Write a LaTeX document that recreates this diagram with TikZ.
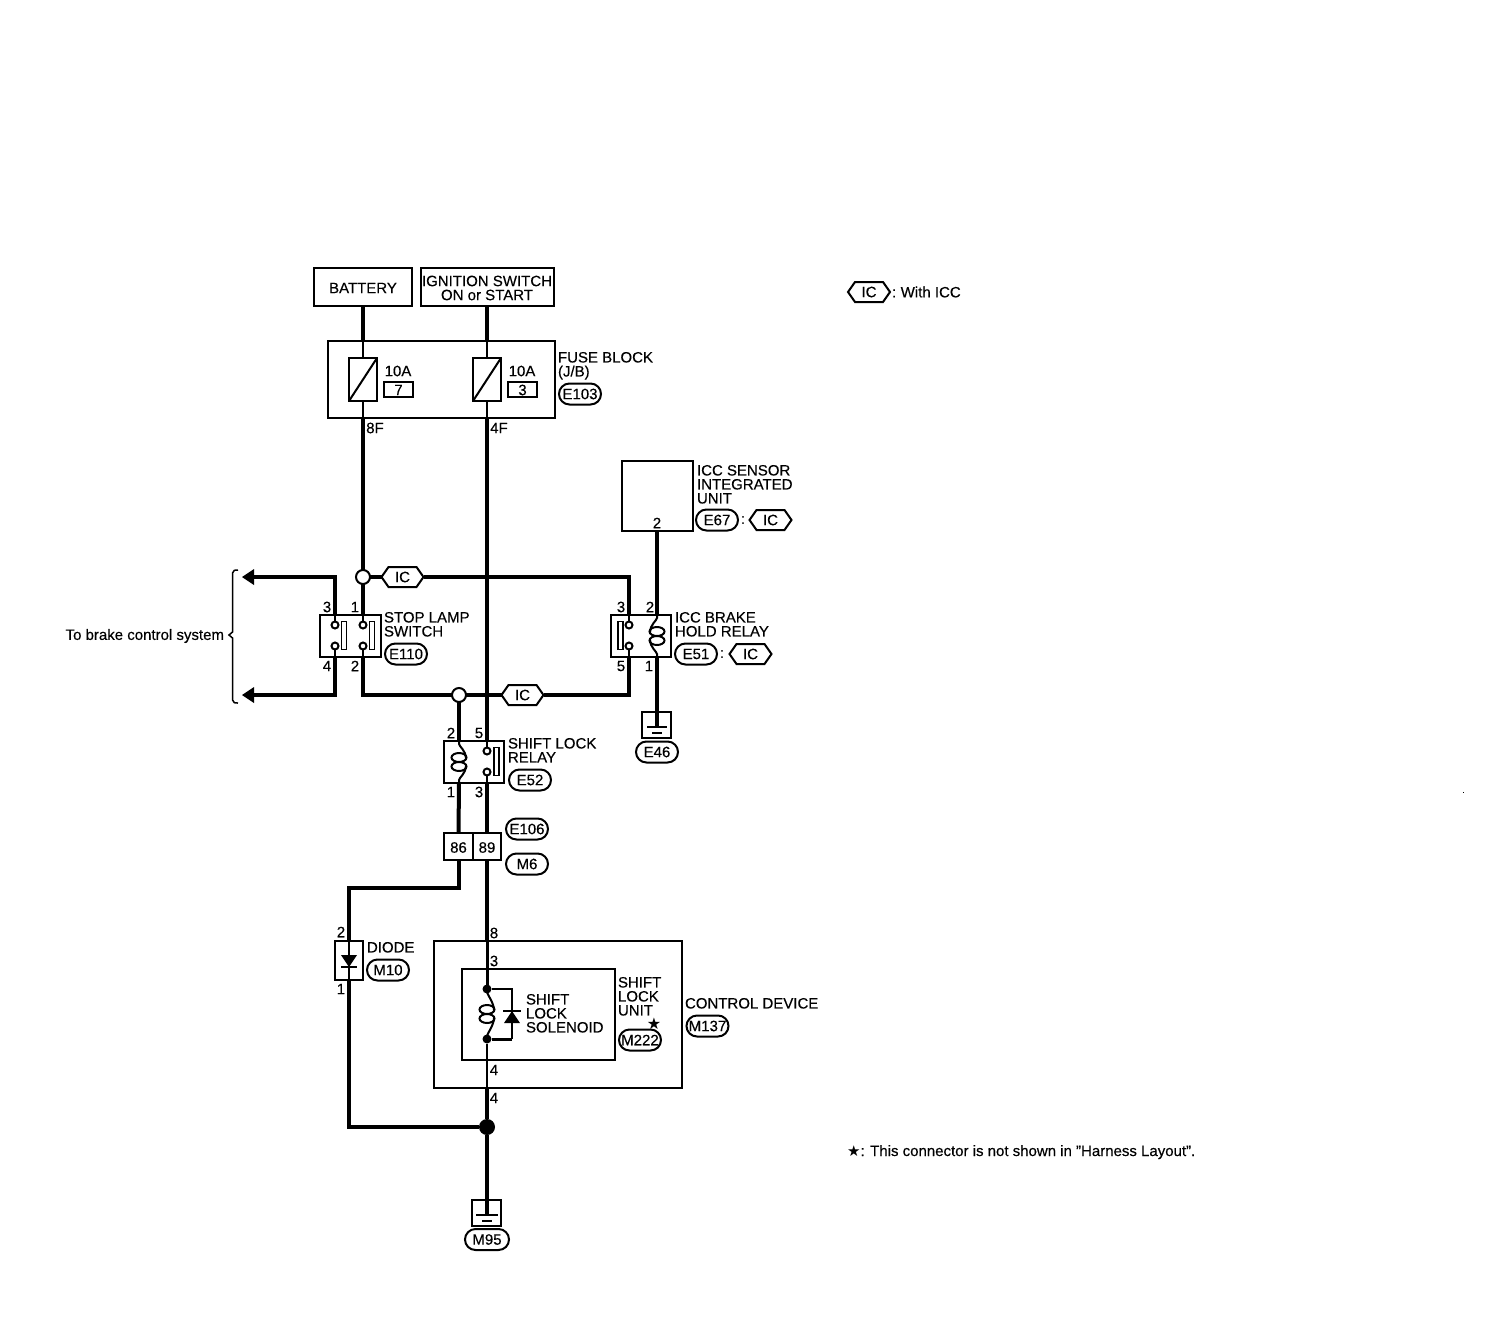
\documentclass[tikz,border=0pt]{standalone}
\usepackage{fontspec}
\setmainfont{Liberation Sans}[RawFeature={embolden=0.3}]
\newfontfamily\symfont{DejaVu Sans}
\usetikzlibrary{shapes.misc,shapes.symbols}
\tikzset{
  x=1pt,y=-1pt,
  every node/.style={inner sep=0pt,outer sep=0pt},
  txt/.style={font=\fontsize{15}{14}\selectfont,align=left,anchor=north west},
  num/.style={font=\fontsize{15}{15}\selectfont},
  boxed/.style={draw,line width=2pt,rectangle,fill=none},
  thickwire/.style={line width=4pt,line join=miter},
  thinwire/.style={line width=2pt},
  pill/.style={draw,line width=2pt,rounded rectangle,minimum width=42pt,minimum height=21pt,font=\fontsize{15}{15}\selectfont},
  hex/.style={draw,line width=2pt,signal,signal to=west and east,signal pointer angle=110,minimum width=42pt,minimum height=20pt,font=\fontsize{15}{15}\selectfont},
  joint/.style={draw,line width=2pt,circle,fill=white,minimum size=14pt},
  contact/.style={draw,line width=2pt,circle,fill=white,minimum size=7pt},
  dotj/.style={circle,fill=black,minimum size=9pt},
  bigdot/.style={circle,fill=black,minimum size=16pt},
  contactbar/.style={draw,line width=1.5pt,rectangle,minimum width=5pt,minimum height=28pt},
}
\newcommand{\coilshape}[4]{% x, y centre, side (+1 right hook, -1 left), half length
  \draw[thinwire] (#1,#2-#4) -- (#1,#2-#4+3) .. controls (#1,#2-#4+5) and (#1+#3*7,#2-11) .. (#1+#3*7,#2-4);
  \draw[thinwire] (#1,#2+#4) -- (#1,#2+#4-3) .. controls (#1,#2+#4-5) and (#1+#3*7,#2+11) .. (#1+#3*7,#2+4);
  \draw[thinwire] (#1,#2-4.5) ellipse [x radius=7.5,y radius=4.5];
  \draw[thinwire] (#1,#2+4.5) ellipse [x radius=7.5,y radius=4.5];
}
\begin{document}
\begin{tikzpicture}
\useasboundingbox (0,0) rectangle (1488,1328);
\fill[white] (0,0) rectangle (1488,1328);

% --- boxes
\node[boxed,minimum width=98pt,minimum height=38pt] (battery) at (363,287) {};
\node[num] (batterylbl) at (363,288) {BATTERY};
\node[boxed,minimum width=133pt,minimum height=38pt] (ign) at (487,287) {};
\node[font=\fontsize{15}{14}\selectfont,align=center] (ignlbl) at (487,288) {IGNITION SWITCH\\ON or START};
\node[boxed,minimum width=227pt,minimum height=77pt] (fuseblock) at (441,379.5) {};
\node[boxed,minimum width=28pt,minimum height=43pt] (fuseA) at (363,379.5) {};
\node[boxed,minimum width=28pt,minimum height=43pt] (fuseB) at (487,379.5) {};
\draw[thinwire] (fuseA.south west) -- (fuseA.north east);
\draw[thinwire] (fuseB.south west) -- (fuseB.north east);
\node[boxed,minimum width=29pt,minimum height=15pt] (fuseA7) at (398.5,389) {};
\node[num] (lbl7) at (398.5,390) {7};
\node[boxed,minimum width=29pt,minimum height=15pt] (fuseB3) at (522.5,389) {};
\node[num] (lbl3) at (522.5,390) {3};
\node[num] (ampA) at (398,371) {10A};
\node[num] (ampB) at (522,371) {10A};
\node[txt] (fuselbl) at (558,352) {FUSE BLOCK\\(J/B)};
\node[pill] (e103) at (580,394) {E103};
\node[num] (n8f) at (375,428) {8F};
\node[num] (n4f) at (499,428) {4F};

\node[boxed,minimum width=71pt,minimum height=70pt] (icc) at (657.5,496) {};
\node[num] (icc2) at (657,523) {2};
\node[txt] (icclbl) at (697,465) {ICC SENSOR\\INTEGRATED\\UNIT};
\node[pill] (e67) at (717,520) {E67};
\node[num] (c67) at (743,520) {:};
\node[hex] (hexE67) at (770.5,520) {IC};

\node[boxed,minimum width=61pt,minimum height=42pt] (stop) at (350.5,636) {};
\node[txt] (stoplbl) at (384,612) {STOP LAMP\\SWITCH};
\node[pill] (e110) at (406,654) {E110};
\node[num] (s3) at (327,607) {3};
\node[num] (s1) at (355,607) {1};
\node[num] (s4) at (327,666) {4};
\node[num] (s2) at (355,666) {2};
\node[contact] (c3) at (335,625) {};
\node[contact] (c4) at (335,646) {};
\node[contact] (c1) at (363,625) {};
\node[contact] (c2) at (363,646) {};
\node[contactbar] (barL) at (344,635.5) {};
\node[contactbar] (barR) at (372,635.5) {};
\draw[thinwire] (c3 |- stop.north) -- (c3.north);
\draw[thinwire] (c4 |- stop.south) -- (c4.south);
\draw[thinwire] (c1 |- stop.north) -- (c1.north);
\draw[thinwire] (c2 |- stop.south) -- (c2.south);

\node[boxed,minimum width=60pt,minimum height=42pt] (hold) at (641,636) {};
\node[txt] (holdlbl) at (675,612) {ICC BRAKE\\HOLD RELAY};
\node[pill] (e51) at (696,654) {E51};
\node[num] (c51) at (722,654) {:};
\node[hex] (hexE51) at (750.5,654) {IC};
\node[num] (h3) at (621,607) {3};
\node[num] (h2) at (650,607) {2};
\node[num] (h5) at (621,666) {5};
\node[num] (h1) at (649,666) {1};
\node[contact] (hc3) at (629,625) {};
\node[contact] (hc5) at (629,646) {};
\node[contactbar] (hbar) at (620.5,635.5) {};
\draw[thinwire] (hc3 |- hold.north) -- (hc3.north);
\draw[thinwire] (hc5 |- hold.south) -- (hc5.south);
\coilshape{657}{636}{-1}{21}

\node[boxed,minimum width=29pt,minimum height=26pt] (gndE46) at (656.5,725) {};
\node[pill] (e46) at (657,752) {E46};

\node[boxed,minimum width=60pt,minimum height=42pt] (relay) at (474,762) {};
\node[txt] (relaylbl) at (508,738) {SHIFT LOCK\\RELAY};
\node[pill] (e52) at (530,780) {E52};
\node[num] (r2) at (451,733) {2};
\node[num] (r5) at (479,733) {5};
\node[num] (r1) at (451,792) {1};
\node[num] (r3) at (479,792) {3};
\node[contact] (rc5) at (487,751) {};
\node[contact] (rc3) at (487,772) {};
\node[contactbar] (rbar) at (496.5,761.5) {};
\draw[thinwire] (rc5 |- relay.north) -- (rc5.north);
\draw[thinwire] (rc3 |- relay.south) -- (rc3.south);
\coilshape{459}{762}{1}{21}

\node[boxed,minimum width=29pt,minimum height=27pt] (conn86) at (458.5,846.5) {};
\node[num] (lbl86) at (458.5,847.5) {86};
\node[boxed,minimum width=28pt,minimum height=27pt] (conn89) at (487,846.5) {};
\node[num] (lbl89) at (487,847.5) {89};
\node[pill] (e106) at (527,829) {E106};
\node[pill] (m6) at (527,864) {M6};

\node[boxed,minimum width=28pt,minimum height=39pt] (diode) at (349,960.5) {};
\node[num] (d2) at (341,932) {2};
\node[num] (d1) at (341,989) {1};
\node[txt] (diodelbl) at (367,942) {DIODE};
\node[pill] (m10) at (388,970) {M10};
\fill (341,955) -- (357,955) -- (349,967) -- cycle;
\draw[thinwire] (341,967) -- (357,967);
\draw[thinwire] (diode.north) -- (diode.south);

\node[boxed,minimum width=248pt,minimum height=147pt] (ctrl) at (558,1014.5) {};
\node[boxed,minimum width=153pt,minimum height=91pt] (unit) at (538.5,1014.5) {};
\node[num] (n8) at (494,933) {8};
\node[num] (n3) at (494,961) {3};
\node[num] (n4a) at (494,1070) {4};
\node[num] (n4b) at (494,1098) {4};
\node[txt] (sollbl) at (526,994) {SHIFT\\LOCK\\SOLENOID};
\node[txt] (unitlbl) at (618,977) {SHIFT\\LOCK\\UNIT};
\node[font=\symfont\fontsize{16}{16}\selectfont] (star) at (654,1024) {★};
\node[pill] (m222) at (640,1040) {M222};
\node[txt] (ctrllbl) at (685,998) {CONTROL DEVICE};
\node[pill] (m137) at (707.5,1026) {M137};
\node[dotj] (dotA) at (487,989) {};
\node[dotj] (dotB) at (487,1039) {};
\coordinate (solR) at (512,989);
\coordinate (solRb) at (512,1039);
\draw[thinwire] (dotA) -- (solR) -- (solRb);
\draw[line width=3pt] (solRb) -- (dotB);
\fill (504,1023) -- (520,1023) -- (512,1011) -- cycle;
\draw[thinwire] (503,1011) -- (521,1011);
\coilshape{487}{1014}{1}{25}

\node[boxed,minimum width=29pt,minimum height=26pt] (gndM95) at (486.5,1213) {};
\node[pill,minimum width=44pt] (m95) at (487,1239.5) {M95};

% --- wires
\draw[thickwire] (battery.south) -- (fuseblock.north -| battery.south);
\draw[thinwire] (fuseblock.north -| fuseA) -- (fuseA.north);
\draw[thinwire] (fuseA.south) -- (fuseblock.south -| fuseA);
\draw[thickwire] (ign.south) -- (fuseblock.north -| ign.south);
\draw[thinwire] (fuseblock.north -| fuseB) -- (fuseB.north);
\draw[thinwire] (fuseB.south) -- (fuseblock.south -| fuseB);

\node[joint] (jTop) at (363,577) {};
\node[hex] (hexTop) at (402.5,577) {IC};
\node[joint] (jLow) at (459,695) {};
\node[hex] (hexLow) at (522.5,695) {IC};

\draw[thickwire] (fuseblock.south -| fuseA) -- (jTop.north);
\draw[thickwire] (jTop.south) -- (c1 |- stop.north);
\draw[thickwire] (jTop.east) -- (hexTop.west);
\coordinate (hexTopCorner) at (629,577);
\draw[thickwire] (hexTop.east) -- (hexTopCorner) -- (hc3 |- hold.north);
\draw[thickwire] (fuseblock.south -| fuseB) -- (rc5 |- relay.north);
\coordinate (lowCornerR) at (629,695);
\draw[thickwire] (hc5 |- hold.south) -- (lowCornerR) -- (hexLow.east);
\coordinate (lowCornerL) at (363,695);
\draw[thickwire] (c2 |- stop.south) -- (lowCornerL) -- (jLow.west);
\draw[thickwire] (jLow.east) -- (hexLow.west);
\draw[thickwire] (jLow.south) -- (jLow |- relay.north);

\coordinate (arrowTop) at (254,577);
\coordinate (arrowLow) at (254,695);
\coordinate (cornerTop) at (335,577);
\coordinate (cornerLow) at (335,695);
\draw[thickwire] (c3 |- stop.north) -- (cornerTop) -- (arrowTop);
\draw[thickwire] (c4 |- stop.south) -- (cornerLow) -- (arrowLow);
\fill (242,577) -- (254,569) -- (254,585) -- cycle;
\fill (242,695) -- (254,687) -- (254,703) -- cycle;
\draw[line width=1.5pt] (238,570) .. controls (234,570) .. (232.5,573) -- (232.5,632) -- (229,635) -- (232.5,638) -- (232.5,700) .. controls (234,703) .. (238,703);
\node[font=\fontsize{15}{15}\selectfont,anchor=east] (tobrake) at (224,636) {To brake control system};

\draw[thickwire] (657,531) -- (657,615);
\draw[thickwire] (657,657) -- (657,726);
\draw[line width=2.5pt] (647,727) -- (667,727);
\draw[line width=2.5pt] (652,733) -- (662,733);
\draw[thickwire] (relay.south -| jLow) -- (conn86.north);
\draw[thickwire] (rc3 |- relay.south) -- (conn89.north);
\coordinate (c86corner) at (458.5,888);
\coordinate (diodecorner) at (349,888);
\draw[thickwire] (conn86.south) -- (c86corner) -- (diodecorner) -- (diode.north);
\draw[thickwire] (conn89.south) -- (ctrl.north -| conn89);
\draw[line width=3pt] (ctrl.north -| conn89) -- (dotA.north);
\draw[thinwire] (dotB.south) -- (ctrl.south -| dotB);
\node[bigdot] (jBot) at (487,1127) {};
\coordinate (diodeBot) at (349,1127);
\draw[thickwire] (diode.south) -- (diodeBot) -- (jBot.west);
\draw[thickwire] (ctrl.south -| jBot) -- (jBot.north);
\coordinate (gndTop) at (487,1214);
\draw[thickwire] (jBot.south) -- (gndTop);
\draw[line width=2.5pt] (476,1215) -- (498,1215);
\draw[line width=2.5pt] (482,1221) -- (492,1221);

% --- notes
\node[hex] (hexNote) at (869,292) {IC};
\node[font=\fontsize{15}{15}\selectfont,anchor=west] (withicc) at (892,292) {:\kern-1pt{} With ICC};
\node[font=\fontsize{15}{15}\selectfont,anchor=base west] (note) at (847,1156) {{\symfont ★}: This connector is not shown in \char34 Harness Layout\char34 .};
\fill (1463,792) rectangle (1464,793);
\end{tikzpicture}
\end{document}
